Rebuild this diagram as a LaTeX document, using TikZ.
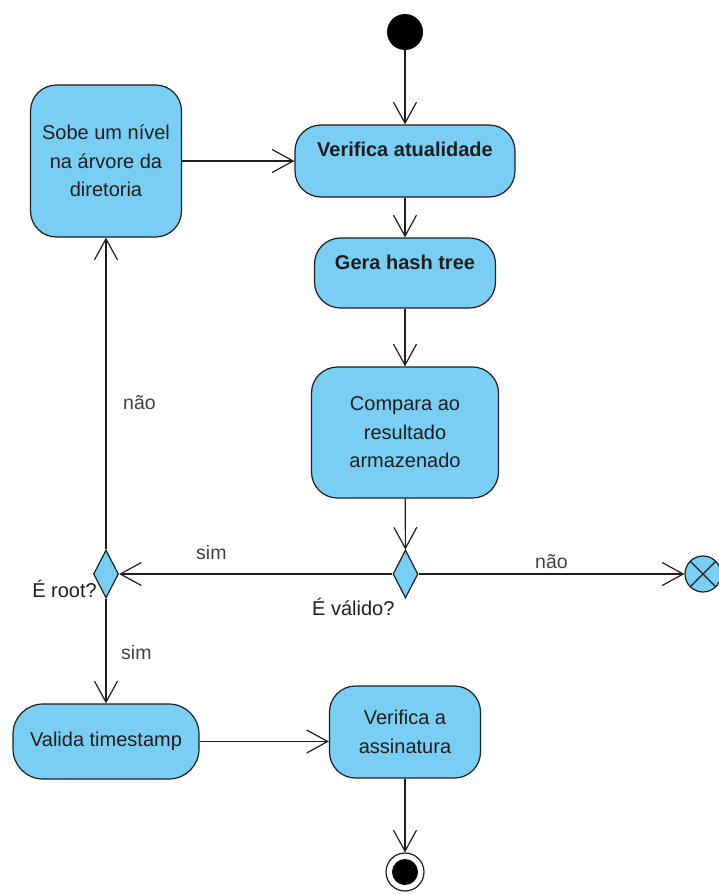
\documentclass[tikz,border=0pt]{standalone}
\usepackage{fontspec}
\setmainfont{Liberation Sans}
\usetikzlibrary{arrows.meta,shapes.geometric}
\definecolor{actfill}{RGB}{122,206,244}
\definecolor{ink}{RGB}{30,30,30}
\begin{document}
\begin{tikzpicture}[x=1pt,y=-1pt,
  every node/.style={font=\fontsize{20}{28.5}\selectfont, text=ink},
  action/.style={draw=ink, line width=1.2pt, fill=actfill, rounded corners=26pt,
    align=center, inner sep=0pt},
  decision/.style={draw=ink, line width=1.2pt, fill=actfill, diamond, inner sep=0pt,
    minimum width=25pt, minimum height=48pt},
  flow/.style={draw=ink, line width=1.2pt, -{Straight Barb[length=21pt,width=23pt]}},
  guard/.style={font=\fontsize{19.5}{24}\selectfont, text=ink!85}
]
\useasboundingbox (0,0) rectangle (718,894);

% initial and final nodes
\node (start) [circle, fill=black, minimum size=36pt, inner sep=0pt] at (405,32) {};
\node (end) [circle, draw=ink, line width=1.2pt, fill=white, minimum size=38pt, inner sep=0pt,
  path picture={\fill[black] (path picture bounding box.center) circle (13pt);}] at (405,872) {};
\node (flowend) [circle, draw=ink, line width=1.2pt, fill=actfill, minimum size=36pt, inner sep=0pt,
  path picture={
    \draw[ink, line width=1.2pt] (path picture bounding box.north west) -- (path picture bounding box.south east);
    \draw[ink, line width=1.2pt] (path picture bounding box.north east) -- (path picture bounding box.south west);}]
  at (703,574) {};

% actions
\node (atual) [action, minimum width=220pt, minimum height=72pt, text depth=24pt] at (405,161)
  {\bfseries Verifica atualidade};
\node (hash) [action, minimum width=181pt, minimum height=70pt, text depth=22pt] at (405,273)
  {\bfseries Gera hash tree};
\node (compara) [action, minimum width=187pt, minimum height=131pt] at (405,432.5)
  {Compara ao\\resultado\\armazenado};
\node (sobe) [action, minimum width=151pt, minimum height=152pt] at (106,161)
  {Sobe um nível\\na árvore da\\diretoria};
\node (timestamp) [action, minimum width=186pt, minimum height=75pt, rounded corners=30pt] at (106,741.5)
  {Valida timestamp};
\node (assin) [action, minimum width=151pt, minimum height=92pt] at (405,732)
  {Verifica a\\assinatura};

% decisions
\node (valido) [decision] at (405.5,574) {};
\node (root) [decision] at (106,574) {};

% decision captions
\node (lvalido) [anchor=base west, inner sep=0pt] at (312,615) {É válido?};
\node (lroot) [anchor=base east, inner sep=0pt] at (97,597) {É root?};

% control flows
\draw[flow] (start) -- (atual);
\draw[flow] (atual) -- (hash);
\draw[flow] (hash) -- (compara);
\draw[flow] (compara) -- (valido);
\draw[flow] (valido) -- (flowend);
\draw[flow] (valido) -- (root);
\draw[flow] (root) -- (sobe);
\draw[flow] (sobe) -- (atual);
\draw[flow] (root) -- (timestamp);
\draw[flow] (timestamp) -- (timestamp -| assin.west);
\draw[flow] (assin) -- (end);

% guards
\node (gnao1) [guard, anchor=base west, inner sep=0pt] at (535,568) {não};
\node (gsim1) [guard, anchor=base west, inner sep=0pt] at (196,559) {sim};
\node (gnao2) [guard, anchor=base west, inner sep=0pt] at (123,409) {não};
\node (gsim2) [guard, anchor=base west, inner sep=0pt] at (121,659) {sim};
\end{tikzpicture}
\end{document}
